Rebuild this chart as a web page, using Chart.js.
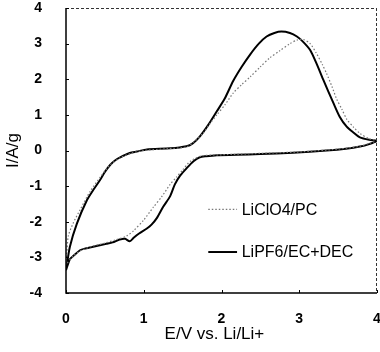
<!DOCTYPE html>
<html>
<head>
<meta charset="utf-8">
<script src="https://cdn.jsdelivr.net/npm/chart.js@4/dist/chart.umd.min.js"></script>
<style>
html,body{margin:0;padding:0;background:#fff;}
#wrap{width:380px;height:352px;}
</style>
</head>
<body>
<div id="wrap"><canvas id="c" width="380" height="352"></canvas></div>
<script>
// ---- data ----
const seriesNames = ["LiClO4/PC", "LiPF6/EC+DEC"];
const xTicks = [0, 1, 2, 3, 4];
const yTicks = [-4, -3, -2, -1, 0, 1, 2, 3, 4];
const xTitle = "E/V vs. Li/Li+";
const yTitle = "I/A/g";

// LiPF6/EC+DEC (solid) – potential (V) and current (A/g), sweep order
const pf6E = [0.00,0.05,0.14,0.27,0.35,0.44,0.50,0.57,0.63,0.69,0.82,0.91,1.04,1.34,1.55,1.63,1.72,1.83,1.94,2.04,2.15,2.26,2.37,2.48,2.58,2.68,2.77,2.88,2.97,3.05,3.14,3.22,3.31,3.44,3.52,3.61,3.70,3.78,3.90,4.00,
              3.90,3.78,3.60,3.35,2.92,2.50,2.20,1.94,1.80,1.72,1.64,1.55,1.47,1.40,1.34,1.25,1.17,1.10,1.04,0.94,0.87,0.82,0.76,0.69,0.60,0.52,0.35,0.25,0.18,0.10,0.05,0.00];
const pf6I = [-3.36,-2.70,-2.05,-1.39,-1.11,-0.82,-0.60,-0.40,-0.28,-0.20,-0.07,-0.03,0.03,0.06,0.12,0.20,0.39,0.72,1.10,1.45,1.95,2.35,2.70,3.00,3.20,3.30,3.34,3.30,3.20,3.05,2.82,2.45,1.98,1.33,0.95,0.67,0.50,0.37,0.30,0.27,
              0.18,0.11,0.05,0.00,-0.06,-0.10,-0.12,-0.13,-0.16,-0.19,-0.30,-0.50,-0.70,-0.95,-1.28,-1.58,-1.89,-2.08,-2.19,-2.33,-2.45,-2.55,-2.48,-2.50,-2.58,-2.62,-2.70,-2.75,-2.80,-2.95,-3.05,-3.36];

// LiClO4/PC (dotted)
const clo4E = [0.00,0.01,0.03,0.09,0.18,0.31,0.44,0.57,0.70,0.85,1.00,1.30,1.55,1.65,1.77,1.85,1.94,2.05,2.15,2.26,2.37,2.50,2.62,2.75,2.88,2.97,3.05,3.14,3.22,3.30,3.35,3.42,3.48,3.55,3.61,3.70,3.78,3.90,4.00,
               3.90,3.78,3.50,3.00,2.50,2.00,1.75,1.60,1.50,1.42,1.34,1.23,1.12,1.00,0.87,0.78,0.65,0.50,0.35,0.20,0.10,0.00];
const clo4I = [-3.20,-2.90,-2.40,-2.05,-1.67,-1.15,-0.75,-0.40,-0.20,-0.07,0.00,0.05,0.10,0.25,0.50,0.75,1.00,1.30,1.61,1.85,2.07,2.35,2.60,2.80,3.00,3.10,3.12,3.00,2.73,2.40,2.17,1.80,1.45,1.15,0.88,0.65,0.48,0.33,0.28,
               0.20,0.12,0.04,-0.04,-0.08,-0.12,-0.15,-0.30,-0.55,-0.75,-0.95,-1.30,-1.60,-1.95,-2.25,-2.40,-2.50,-2.60,-2.68,-2.80,-2.95,-3.20];

function pts(xs, ys){ return xs.map((x,i)=>({x:x, y:ys[i]})); }

const FONT = "'Liberation Sans', Arial, Helvetica, sans-serif";

// frame, inner tick marks and legend
const decor = {
  id: 'decor',
  afterDatasetsDraw(chart){
    const ctx = chart.ctx, a = chart.chartArea;
    const xs = chart.scales.x, ys = chart.scales.y;
    ctx.save();
    // top & right (dotted-ish)
    ctx.strokeStyle = '#333'; ctx.lineWidth = 1; ctx.setLineDash([3,2]);
    ctx.beginPath();
    ctx.moveTo(a.left, a.top + 0.5); ctx.lineTo(a.right, a.top + 0.5);
    ctx.moveTo(a.right - 0.5, a.top); ctx.lineTo(a.right - 0.5, a.bottom);
    ctx.stroke();
    // left & bottom solid
    ctx.setLineDash([]); ctx.strokeStyle = '#000'; ctx.lineWidth = 1.5;
    ctx.beginPath();
    ctx.moveTo(a.left, a.top); ctx.lineTo(a.left, a.bottom); ctx.lineTo(a.right, a.bottom);
    ctx.stroke();
    // inner tick marks
    ctx.lineWidth = 1;
    ctx.beginPath();
    yTicks.forEach(v => { const y = Math.round(ys.getPixelForValue(v)) + 0.5; ctx.moveTo(a.left, y); ctx.lineTo(a.left + 3, y); });
    xTicks.forEach(v => { const x = Math.round(xs.getPixelForValue(v)) + 0.5; ctx.moveTo(x, a.bottom); ctx.lineTo(x, a.bottom - 3); });
    ctx.stroke();
    // legend
    const ds = chart.data.datasets;
    const rows = [{ds: ds[0], y: ys.getPixelForValue(-1.65)}, {ds: ds[1], y: ys.getPixelForValue(-2.85)}];
    const x0 = xs.getPixelForValue(1.83), x1 = xs.getPixelForValue(2.2), tx = xs.getPixelForValue(2.26);
    rows.forEach(r => {
      ctx.strokeStyle = r.ds.borderColor; ctx.lineWidth = r.ds.borderWidth;
      ctx.setLineDash(r.ds.borderDash || []);
      ctx.beginPath(); ctx.moveTo(x0, r.y); ctx.lineTo(x1, r.y); ctx.stroke();
      ctx.setLineDash([]);
      ctx.fillStyle = '#000'; ctx.font = '16px ' + FONT; ctx.textBaseline = 'middle'; ctx.textAlign = 'left';
      ctx.fillText(r.ds.label, tx, r.y + 1);
    });
    ctx.restore();
  }
};

new Chart(document.getElementById('c'), {
  type: 'scatter',
  data: {
    datasets: [
      { label: seriesNames[0], data: pts(clo4E, clo4I), showLine: true, borderColor: '#777', borderWidth: 1.2, borderDash: [1.5, 2], pointRadius: 0, tension: 0.25, fill: false },
      { label: seriesNames[1], data: pts(pf6E, pf6I), showLine: true, borderColor: '#000', borderWidth: 2, pointRadius: 0, tension: 0.25, fill: false }
    ]
  },
  options: {
    responsive: false,
    animation: false,
    devicePixelRatio: 1,
    layout: { padding: { left: 0, right: 3, top: 8, bottom: 0 } },
    plugins: { legend: { display: false }, tooltip: { enabled: false } },
    scales: {
      x: {
        type: 'linear', min: 0, max: 4,
        afterBuildTicks: s => { s.ticks = xTicks.map(v => ({value: v})); },
        afterFit: s => { s.height = 59; s.paddingLeft = 0; s.paddingRight = 0; },
        grid: { display: false },
        border: { display: false },
        ticks: { color: '#000', font: { family: FONT, size: 14, weight: 'bold' }, padding: 10, maxRotation: 0 },
        title: { display: true, text: xTitle + '   ', color: '#000', font: { family: FONT, size: 17 }, padding: { top: 0, bottom: 7 } }
      },
      y: {
        type: 'linear', min: -4, max: 4,
        afterBuildTicks: s => { s.ticks = yTicks.map(v => ({value: v})); },
        afterFit: s => { s.width = 66; s.paddingTop = 0; s.paddingBottom = 0; },
        grid: { display: false },
        border: { display: false },
        ticks: { color: '#000', font: { family: FONT, size: 14, weight: 'bold' }, padding: 16 },
        title: { display: true, text: yTitle, color: '#000', font: { family: FONT, size: 17 }, padding: { top: 3, bottom: 0 } }
      }
    }
  },
  plugins: [decor]
});
</script>
</body>
</html>
